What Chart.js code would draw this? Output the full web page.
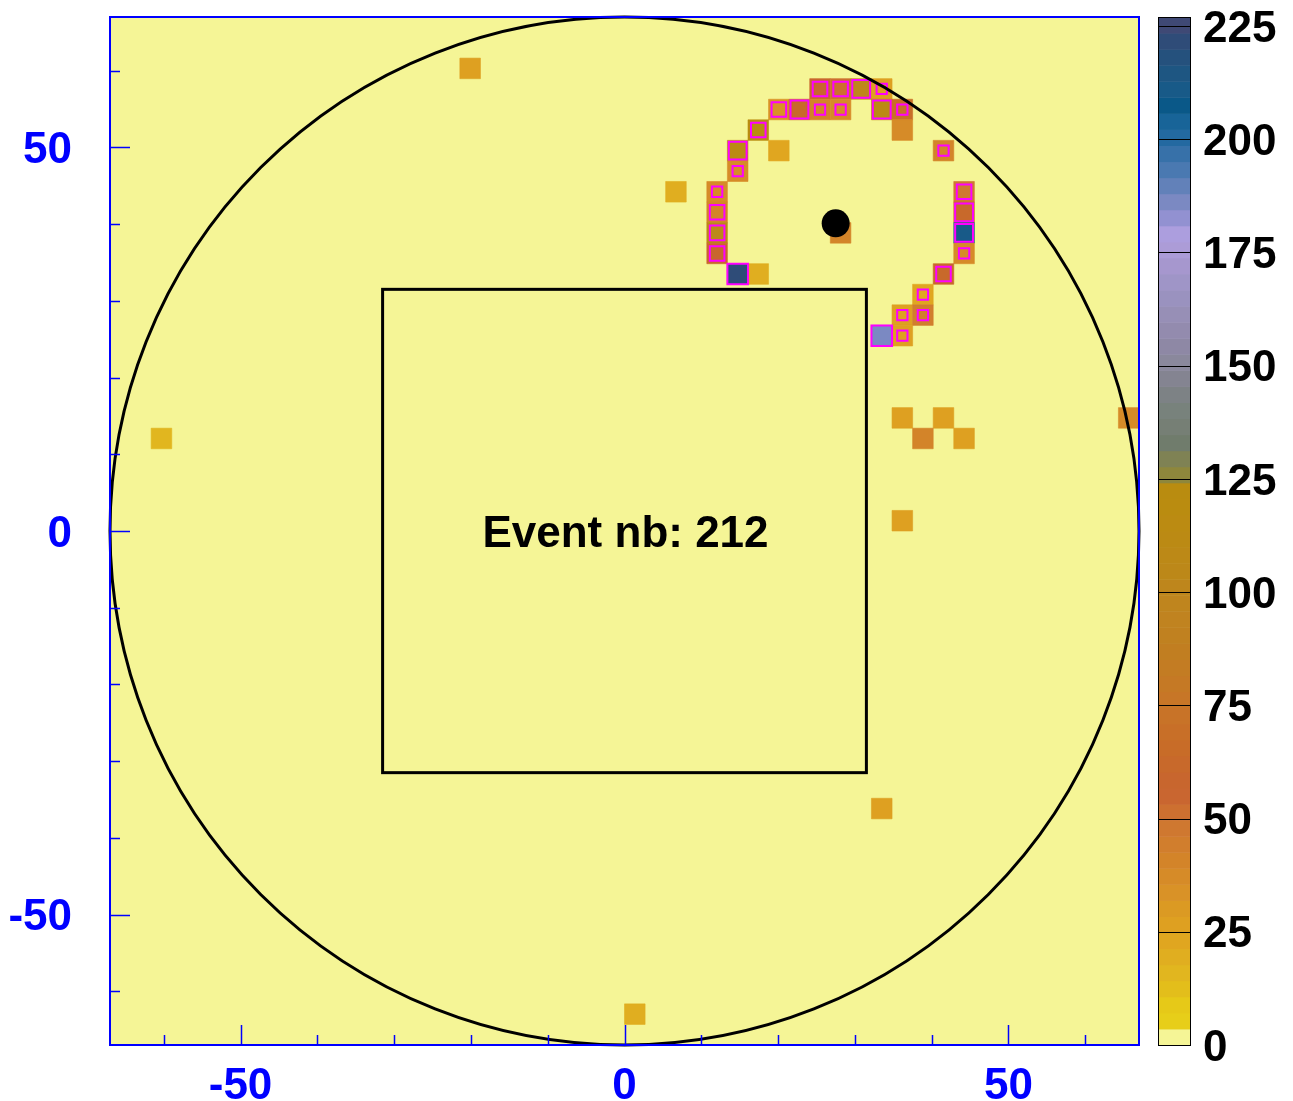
<!DOCTYPE html>
<html>
<head>
<meta charset="utf-8">
<script src="https://cdn.jsdelivr.net/npm/chart.js@4.4.0/dist/chart.umd.min.js"></script>
<style>
  html, body { margin: 0; padding: 0; background: #ffffff; }
  #wrap { width: 1293px; height: 1101px; }
</style>
</head>
<body>
<div id="wrap"><canvas id="hist"></canvas></div>
<script>
// 50 x 50 bins over [-67, 67] on both axes
const axisMin = -67, axisMax = 67, nBins = 50;
const binWidth = (axisMax - axisMin) / nBins;

// filled bins: column index, row index (0 = bottom row), content
const cellCol = [34, 35, 36, 37, 32, 33, 34, 35, 37, 38, 31, 38, 30, 32, 40, 30, 29, 41, 27, 29, 41,
                 29, 35, 41, 29, 41, 30, 31, 40, 39, 38, 39, 37, 38, 17, 38, 40, 49, 2, 39, 41, 38, 37, 25];
const cellRow = [46, 46, 46, 46, 45, 45, 45, 45, 45, 45, 44, 44, 43, 43, 43, 42, 41, 41, 41, 40, 40,
                 39, 39, 39, 38, 38, 37, 37, 37, 36, 35, 35, 34, 34, 47, 30, 30, 30, 29, 29, 29, 25, 11, 1];
const cellVal = [58, 52, 100, 27, 32, 62, 40, 36, 112, 70, 124, 38, 115, 24, 42, 38, 36, 48, 18, 42, 62,
                 105, 42, 210, 60, 38, 222, 18, 62, 22, 25, 45, 185, 27, 26, 27, 27, 38, 15, 42, 27, 27, 26, 20];

// second histogram drawn as boxes (content 1..4)
const boxCol = [34, 35, 36, 37, 32, 33, 34, 35, 37, 38, 31, 30, 40, 30, 29, 41, 29, 41, 29, 41, 29, 41, 30, 40, 39, 38, 39, 37, 38];
const boxRow = [46, 46, 46, 46, 45, 45, 45, 45, 45, 45, 44, 43, 43, 42, 41, 41, 40, 40, 39, 39, 38, 38, 37, 37, 36, 35, 35, 34, 34];
const boxVal = [2, 2, 3, 1, 2, 3, 1, 1, 3, 1, 2, 3, 1, 1, 1, 2, 2, 3, 2, 3, 2, 1, 4, 2, 1, 1, 1, 4, 1];
const boxMax = 4;

// fitted ring centre, detector outline, inner square, label
const ringX = [27.5];
const ringY = [40.1];
const outerRadius = 67;
const innerHalf = 31.5;
const eventText = 'Event nb: 212';

// axes
const xTicks = [-60, -50, -40, -30, -20, -10, 0, 10, 20, 30, 40, 50, 60];
const yTicks = [-60, -50, -40, -30, -20, -10, 0, 10, 20, 30, 40, 50, 60];
const majorTicks = [-50, 0, 50];
const zMax = 227;
const zTicks = [0, 25, 50, 75, 100, 125, 150, 175, 200, 225];
const nLevels = 64;

// palette
const stopValues = [0, 3.5, 3.6, 10, 13, 17, 20.5, 24, 29, 34.6, 39.7, 46.8, 52.5, 55.6, 66, 74, 80.7, 89.5, 95, 106,
                    118.7, 124.6, 125.4, 133, 138, 141.8, 145, 149, 155.6, 162, 167, 173, 178.5, 183, 186.6, 190,
                    193.6, 197.5, 201, 204, 207.6, 211, 216, 221.5, 224, 227];
const stopColors = ['#F5F596', '#F5F596', '#E8D01A', '#E6C818', '#E2BC1C', '#E0B420', '#E0AC20', '#E0A420', '#DC9C22', '#D89028',
                    '#D48628', '#D07A30', '#CC6E30', '#C86430', '#C86C28', '#C87428', '#C47A24', '#C08020', '#C08420', '#BC8818',
                    '#BA8C10', '#B88C10', '#908838', '#707C6C', '#788078', '#788480', '#808088', '#888898', '#9088A8', '#9890B8',
                    '#9C94C4', '#A898D0', '#B0A0E0', '#9090D0', '#7888C0', '#6080B8', '#4878B0', '#3470A8', '#2068A0', '#186498',
                    '#0A5888', '#185A88', '#205480', '#2E4C78', '#3E4A78', '#404870'];

const frameFill = '#F5F596';
const axisBlue = '#0000FF';
const boldFont = '"Liberation Sans", Arial, Helvetica, sans-serif';

function hexRgb(h) {
  const n = parseInt(h.slice(1), 16);
  return [(n >> 16) & 255, (n >> 8) & 255, n & 255];
}
function paletteAt(v) {
  let i = 0;
  while (i < stopValues.length - 2 && v > stopValues[i + 1]) i++;
  const t = Math.max(0, Math.min(1, (v - stopValues[i]) / (stopValues[i + 1] - stopValues[i])));
  const a = hexRgb(stopColors[i]), b = hexRgb(stopColors[i + 1]);
  const c = a.map((x, k) => Math.round(x + (b[k] - x) * t));
  return 'rgb(' + c.join(',') + ')';
}
function levelColor(k) { return paletteAt((k + 0.5) * zMax / nLevels); }
function valueColor(v) { return levelColor(Math.min(nLevels - 1, Math.floor(v / (zMax / nLevels)))); }

const binCenter = i => axisMin + (i + 0.5) * binWidth;
const cellPoints = cellCol.map((c, i) => ({x: binCenter(c), y: binCenter(cellRow[i]), v: cellVal[i]}));
const boxPoints = boxCol.map((c, i) => ({x: binCenter(c), y: binCenter(boxRow[i]), v: boxVal[i]}));
const ringPoints = ringX.map((x, i) => ({x: x, y: ringY[i]}));

function binPixels(chart) {
  const sx = chart.scales.x;
  return Math.abs(sx.getPixelForValue(binWidth) - sx.getPixelForValue(0));
}

// fixed axis sizes, no label overhang padding
function fixSize(w, h) {
  return s => {
    if (w !== null) s.width = w;
    if (h !== null) s.height = h;
    s.paddingTop = 0; s.paddingBottom = 0; s.paddingLeft = 0; s.paddingRight = 0;
  };
}

const decorations = {
  id: 'decorations',
  beforeDatasetsDraw(chart) {
    const {ctx, chartArea: a} = chart;
    ctx.save();
    ctx.fillStyle = frameFill;
    ctx.fillRect(a.left, a.top, a.right - a.left, a.bottom - a.top);
    ctx.restore();
  },
  afterDatasetsDraw(chart) {
    const {ctx, scales: {x, y}} = chart;
    ctx.save();
    ctx.strokeStyle = '#000000';
    ctx.lineWidth = 3;
    // detector outline
    const cx = x.getPixelForValue(0), cy = y.getPixelForValue(0);
    const rx = x.getPixelForValue(outerRadius) - cx;
    const ry = cy - y.getPixelForValue(outerRadius);
    ctx.beginPath();
    ctx.ellipse(cx, cy, rx, ry, 0, 0, Math.PI * 2);
    ctx.stroke();
    // inner square
    const l = x.getPixelForValue(-innerHalf), r = x.getPixelForValue(innerHalf);
    const t = y.getPixelForValue(innerHalf), b = y.getPixelForValue(-innerHalf);
    ctx.strokeRect(l, t, r - l, b - t);
    // label
    ctx.fillStyle = '#000000';
    ctx.font = 'bold 44px ' + boldFont;
    ctx.textAlign = 'center';
    ctx.textBaseline = 'middle';
    ctx.fillText(eventText, cx + 1, cy + 4);
    ctx.restore();
  },
  afterDraw(chart) {
    const {ctx, chartArea: a, scales: {x, y, z}} = chart;
    ctx.save();
    // frame and inward ticks
    ctx.strokeStyle = axisBlue;
    ctx.lineWidth = 1.5;
    xTicks.forEach(v => {
      const px = Math.round(x.getPixelForValue(v)) + 0.5;
      const len = majorTicks.includes(v) ? 20 : 10;
      ctx.beginPath(); ctx.moveTo(px, a.bottom); ctx.lineTo(px, a.bottom - len); ctx.stroke();
    });
    yTicks.forEach(v => {
      const py = Math.round(y.getPixelForValue(v)) + 0.5;
      const len = majorTicks.includes(v) ? 20 : 10;
      ctx.beginPath(); ctx.moveTo(a.left, py); ctx.lineTo(a.left + len, py); ctx.stroke();
    });
    ctx.lineWidth = 2;
    ctx.strokeRect(a.left, a.top, a.right - a.left, a.bottom - a.top);
    // colour bar
    const barL = z.left + 19, barW = 32;
    for (let k = 0; k < nLevels; k++) {
      const y0 = z.getPixelForValue(k * zMax / nLevels);
      const y1 = z.getPixelForValue((k + 1) * zMax / nLevels);
      ctx.fillStyle = levelColor(k);
      ctx.fillRect(barL, y1, barW, y0 - y1 + 0.5);
    }
    ctx.strokeStyle = '#000000';
    ctx.lineWidth = 1;
    zTicks.forEach(v => {
      if (v === 0) return;
      const py = Math.round(z.getPixelForValue(v)) + 0.5;
      ctx.beginPath(); ctx.moveTo(barL, py); ctx.lineTo(barL + barW, py); ctx.stroke();
    });
    ctx.strokeRect(barL + 0.5, z.top + 0.5, barW, z.bottom - z.top);
    ctx.restore();
  }
};

new Chart(document.getElementById('hist'), {
  type: 'scatter',
  data: {
    datasets: [
      {
        label: 'ring centre',
        data: ringPoints,
        order: 0,
        pointStyle: 'circle',
        pointRadius: 14,
        backgroundColor: '#000000',
        borderWidth: 0
      },
      {
        label: 'boxes',
        data: boxPoints,
        order: 1,
        pointStyle: 'rect',
        pointRadius: ctx => binPixels(ctx.chart) * Math.sqrt(ctx.raw.v / boxMax) / Math.SQRT2,
        backgroundColor: 'rgba(0,0,0,0)',
        borderColor: '#FF00FF',
        borderWidth: 2
      },
      {
        label: 'hits',
        data: cellPoints,
        order: 2,
        pointStyle: 'rect',
        pointRadius: ctx => binPixels(ctx.chart) / Math.SQRT2,
        backgroundColor: ctx => valueColor(ctx.raw.v),
        borderColor: ctx => valueColor(ctx.raw.v),
        borderWidth: 0.6
      }
    ]
  },
  options: {
    responsive: true,
    maintainAspectRatio: false,
    animation: false,
    events: [],
    layout: { padding: { top: 17, left: 0, right: 0, bottom: 0 } },
    plugins: { legend: { display: false }, tooltip: { enabled: false } },
    scales: {
      x: {
        type: 'linear', position: 'bottom', min: axisMin, max: axisMax,
        afterBuildTicks: s => { s.ticks = xTicks.map(v => ({value: v})); },
        afterFit: fixSize(null, 56),
        grid: { display: false, drawTicks: false },
        border: { display: false },
        ticks: {
          autoSkip: false, maxRotation: 0, padding: 15, color: axisBlue,
          font: { family: boldFont, size: 44, weight: 'bold', lineHeight: 1.2 },
          callback: v => majorTicks.includes(v) ? String(v) : ''
        }
      },
      y: {
        type: 'linear', position: 'left', min: axisMin, max: axisMax,
        afterBuildTicks: s => { s.ticks = yTicks.map(v => ({value: v})); },
        afterFit: fixSize(110, null),
        grid: { display: false, drawTicks: false },
        border: { display: false },
        ticks: {
          autoSkip: false, padding: 38, labelOffset: 3.5, color: axisBlue,
          font: { family: boldFont, size: 44, weight: 'bold', lineHeight: 1.2 },
          callback: v => majorTicks.includes(v) ? String(v) : ''
        }
      },
      z: {
        type: 'linear', position: 'right', min: 0, max: zMax,
        afterBuildTicks: s => { s.ticks = zTicks.map(v => ({value: v})); },
        afterFit: fixSize(154, null),
        grid: { display: false, drawTicks: false },
        border: { display: false },
        ticks: {
          autoSkip: false, padding: 64, labelOffset: 3.5, color: '#000000',
          font: { family: boldFont, size: 44, weight: 'bold', lineHeight: 1.2 }
        }
      }
    }
  },
  plugins: [decorations]
});
</script>
</body>
</html>
